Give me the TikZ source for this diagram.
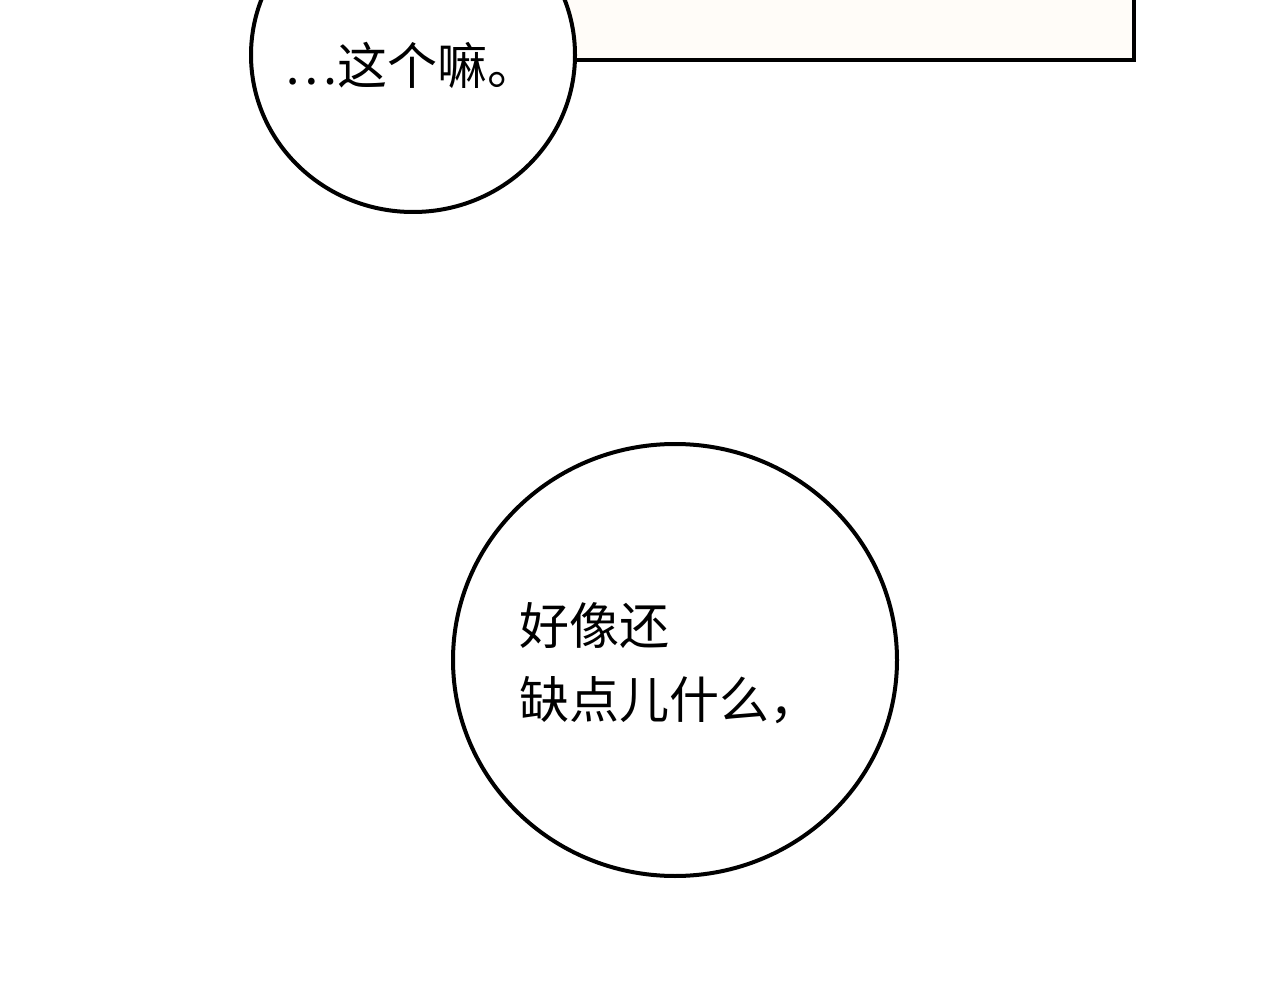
\documentclass[tikz,border=0pt]{standalone}
\usepackage{fontspec}
\newfontfamily\cjk{Noto Sans CJK SC}
\definecolor{cream}{RGB}{255,252,248}
\begin{document}
\begin{tikzpicture}[x=1pt,y=-1pt,
  bubble/.style={draw=black,line width=4pt,fill=white},
  txt/.style={font=\cjk\fontsize{50}{74}\selectfont,inner sep=0pt,anchor=west,align=left}]
\useasboundingbox[fill=white] (0,0) rectangle (1280,1000);
\draw[line width=4pt,fill=cream] (560,-10) rectangle (1134,60);
\draw[bubble] (413,55) ellipse [x radius=162,y radius=157];
\node[txt] (t1) at (284,65) {…这个嘛。};
\draw[bubble] (675,660) ellipse [x radius=222,y radius=216];
\node[txt] (t2) at (519,663) {好像还\\缺点儿什么，};
\end{tikzpicture}
\end{document}
